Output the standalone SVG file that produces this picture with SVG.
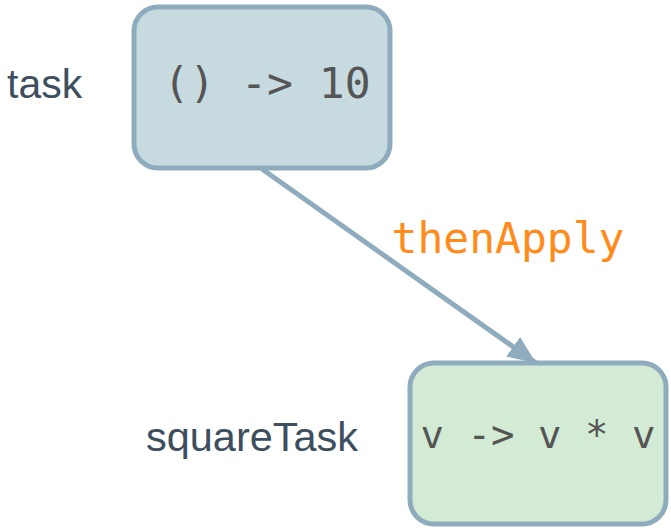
<svg xmlns="http://www.w3.org/2000/svg" width="671" height="529" viewBox="0 0 671 529">
<style>
.box{stroke:#8facbf;stroke-width:5}
.code{font-family:"DejaVu Sans Mono","Liberation Mono",monospace;fill:#555555;text-anchor:middle}
.lbl{font-family:"Liberation Sans",Arial,sans-serif;font-size:41px;fill:#3d4f5e}
.edge{stroke:#8facbf;stroke-width:5;fill:none}
</style>
<defs>
<marker id="ah" markerUnits="userSpaceOnUse" markerWidth="30" markerHeight="30" viewBox="0 0 30 30" refX="28" refY="15" orient="auto">
<path d="M0,3 L28,15 L0,27 Z" fill="#8facbf"/>
</marker>
</defs>
<rect width="671" height="529" fill="#ffffff"/>
<g id="task">
<rect class="box" x="134" y="7" width="256" height="161" rx="24" fill="#c7dadf"/>
<text class="code" x="267" y="98" font-size="43">() -&gt; 10</text>
</g>
<text class="lbl" x="7" y="98">task</text>
<g id="squareTask">
<rect class="box" x="410" y="363" width="256" height="161" rx="24" fill="#d3ebd4"/>
<text class="code" x="538" y="448" font-size="39">v -&gt; v * v</text>
</g>
<text class="lbl" x="146" y="451" textLength="212" lengthAdjust="spacingAndGlyphs">squareTask</text>
<g id="connectors">
<line class="edge" x1="262" y1="169" x2="536" y2="363" marker-end="url(#ah)"/>
<text x="508" y="253" font-family="DejaVu Sans Mono,Liberation Mono,monospace" font-size="43" fill="#ff8c1a" text-anchor="middle">thenApply</text>
</g>
</svg>
